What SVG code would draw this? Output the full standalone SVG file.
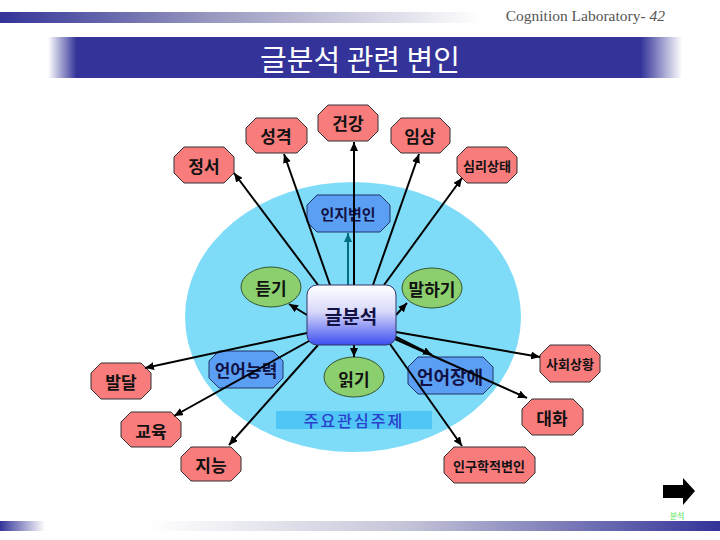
<svg xmlns="http://www.w3.org/2000/svg" width="720" height="540" viewBox="0 0 720 540">
<defs>
<linearGradient id="topbar" x1="0" y1="0" x2="1" y2="0">
<stop offset="0" stop-color="#333399"/><stop offset="0.45" stop-color="#9a9ac0"/><stop offset="1" stop-color="#ffffff"/>
</linearGradient>
<linearGradient id="band" x1="0" y1="0" x2="1" y2="0">
<stop offset="0" stop-color="#ffffff"/><stop offset="0.045" stop-color="#333399"/><stop offset="0.935" stop-color="#333399"/><stop offset="1" stop-color="#ffffff"/>
</linearGradient>
<linearGradient id="botleft" x1="0" y1="0" x2="1" y2="0">
<stop offset="0" stop-color="#333399"/><stop offset="1" stop-color="#ffffff"/>
</linearGradient>
<linearGradient id="botright" x1="0" y1="0" x2="1" y2="0">
<stop offset="0" stop-color="#ffffff"/><stop offset="0.45" stop-color="#c4c4d8"/><stop offset="1" stop-color="#333399"/>
</linearGradient>
<linearGradient id="boxg" x1="0" y1="0" x2="0" y2="1">
<stop offset="0" stop-color="#ffffff"/><stop offset="0.45" stop-color="#d8d8fa"/><stop offset="1" stop-color="#3c4ef0"/>
</linearGradient>
<marker id="ah" markerWidth="9" markerHeight="8" refX="9" refY="4" orient="auto" markerUnits="userSpaceOnUse">
<path d="M0,0 L9,4 L0,8 z" fill="#000"/>
</marker>
<marker id="aht" markerWidth="9" markerHeight="8" refX="9" refY="4" orient="auto" markerUnits="userSpaceOnUse">
<path d="M0,0 L9,4 L0,8 z" fill="#007080"/>
</marker>
<style>
.red{fill:#f87c7c;stroke:#333;stroke-width:1}
.blue{fill:#5b9ff5;stroke:#223366;stroke-width:1}
.green{fill:#8ccf6e;stroke:#335533;stroke-width:1}
.t{font-family:"Noto Sans CJK KR","Noto Sans",sans-serif;text-anchor:middle;dominant-baseline:central;font-weight:bold;fill:#111}
.tb{fill:#111144}
.ln{stroke:#000;stroke-width:2;fill:none;marker-end:url(#ah)}
</style>
</defs>

<rect x="0" y="0" width="720" height="540" fill="#ffffff"/>
<rect x="0" y="12" width="480" height="11" fill="url(#topbar)"/>
<text x="665" y="21" font-family="Liberation Serif,serif" font-size="15.5" fill="#555" text-anchor="end">Cognition Laboratory- <tspan font-style="italic">42</tspan></text>
<rect x="48" y="37" width="634" height="41" fill="url(#band)"/>
<text x="360" y="58" font-family="Noto Sans CJK KR,sans-serif" font-size="29" fill="#ffffff" text-anchor="middle" dominant-baseline="central">글분석 관련 변인</text>
<rect x="0" y="521" width="45" height="10" fill="url(#botleft)"/>
<rect x="150" y="521" width="570" height="10" fill="url(#botright)"/>

<ellipse cx="353" cy="317" rx="168" ry="135" fill="#7fdcf9"/>
<g id="topic">
<rect x="276" y="411" width="156" height="18" fill="#4fc6f6"/>
<text x="354" y="420" class="t" font-size="16" style="fill:#2a3fcc;font-weight:500" letter-spacing="2">주요관심주제</text>
</g>

<g id="n-seonggyeok"><polygon class="red" points="256,118 297,118 307,128 307,143 297,153 256,153 246,143 246,128"/><text class="t" x="276" y="135" font-size="17">성격</text></g>
<g id="n-geongang"><polygon class="red" points="328,105 368,105 378,115 378,131 368,141 328,141 318,131 318,115"/><text class="t" x="348" y="122" font-size="17">건강</text></g>
<g id="n-imsang"><polygon class="red" points="401,118 440,118 450,128 450,143 440,153 401,153 391,143 391,128"/><text class="t" x="420" y="135" font-size="17">임상</text></g>
<g id="n-jeongseo"><polygon class="red" points="184,147 224,147 234,157 234,173 224,183 184,183 174,173 174,157"/><text class="t" x="204" y="165" font-size="17">정서</text></g>
<g id="n-simni"><polygon class="red" points="467,147 507,147 517,157 517,173 507,183 467,183 457,173 457,157"/><text class="t" x="487" y="165" font-size="13">심리상태</text></g>
<g id="n-ingi"><polygon class="blue" points="317,195 380,195 390,205 390,222 380,232 317,232 307,222 307,205"/><text class="t tb" x="348" y="213" font-size="15">인지변인</text></g>
<g id="n-deutgi"><ellipse class="green" cx="271" cy="287" rx="30" ry="20"/><text class="t" x="271" y="287" font-size="17">듣기</text></g>
<g id="n-malhagi"><ellipse class="green" cx="432" cy="288" rx="30" ry="20"/><text class="t" x="432" y="288" font-size="17">말하기</text></g>
<g id="n-eoneo"><polygon class="blue" points="219,351 273,351 283,361 283,378 273,388 219,388 209,378 209,361"/><text class="t tb" x="246" y="369" font-size="17">언어능력</text></g>
<g id="n-ilgi"><ellipse class="green" cx="354" cy="377" rx="30" ry="20"/><text class="t" x="354" y="378" font-size="17">읽기</text></g>
<g id="n-jangae"><polygon class="blue" points="418,357 483,357 493,367 493,384 483,394 418,394 408,384 408,367"/><text class="t tb" x="450" y="376" font-size="18">언어장애</text></g>
<g id="n-baldal"><polygon class="red" points="101,363 141,363 151,373 151,389 141,399 101,399 91,389 91,373"/><text class="t" x="121" y="381" font-size="17">발달</text></g>
<g id="n-sahoe"><polygon class="red" points="550,345 590,345 600,355 600,372 590,382 550,382 540,372 540,355"/><text class="t" x="570" y="363" font-size="13">사회상황</text></g>
<g id="n-daehwa"><polygon class="red" points="532,399 573,399 583,409 583,425 573,435 532,435 522,425 522,409"/><text class="t" x="552" y="417" font-size="17">대화</text></g>
<g id="n-gyoyuk"><polygon class="red" points="131,412 171,412 181,422 181,437 171,447 131,447 121,437 121,422"/><text class="t" x="151" y="430" font-size="17">교육</text></g>
<g id="n-jineung"><polygon class="red" points="191,447 231,447 241,457 241,471 231,481 191,481 181,471 181,457"/><text class="t" x="211" y="464" font-size="17">지능</text></g>
<g id="n-ingu"><polygon class="red" points="454,447 525,447 535,457 535,473 525,483 454,483 444,473 444,457"/><text class="t" x="489" y="465" font-size="13">인구학적변인</text></g>

<g id="connectors">
<path class="ln" d="M318,285 L234,173"/>
<path class="ln" d="M330,285 L284,154"/>
<path class="ln" d="M354,285 L354,142"/>
<path class="ln" d="M373,285 L419,154"/>
<path class="ln" d="M384,285 L462,178"/>
<path d="M348,285 L348,233" stroke="#007080" stroke-width="2" fill="none" marker-end="url(#aht)"/>
<path class="ln" d="M307,315 L289,304"/>
<path class="ln" d="M396,315 L407,303"/>
<path class="ln" d="M307,333 L145,368"/>
<path class="ln" d="M309,341 L174,416"/>
<path class="ln" d="M318,345 L229,445"/>
<path class="ln" d="M354,345 L354,357"/>
<path class="ln" d="M390,344 L462,446"/>
<path class="ln" d="M395,339 L527,398"/>
<path class="ln" d="M396,337 L432,355"/>
<path class="ln" d="M396,332 L540,357"/>
</g>

<g id="n-center"><rect x="307" y="285" width="89" height="60" rx="10" fill="url(#boxg)" stroke="#333366" stroke-width="1"/><text class="t tb" x="351" y="315" font-size="19">글분석</text></g>

<g id="next">
<polygon points="663,485 683,485 683,478 695,491 683,505 683,498 663,498" fill="#000"/>
<text x="677" y="515" font-family="Noto Sans CJK KR,sans-serif" font-size="8" font-weight="bold" fill="#88ee88" text-anchor="middle" dominant-baseline="central">분석</text>
</g>
</svg>
